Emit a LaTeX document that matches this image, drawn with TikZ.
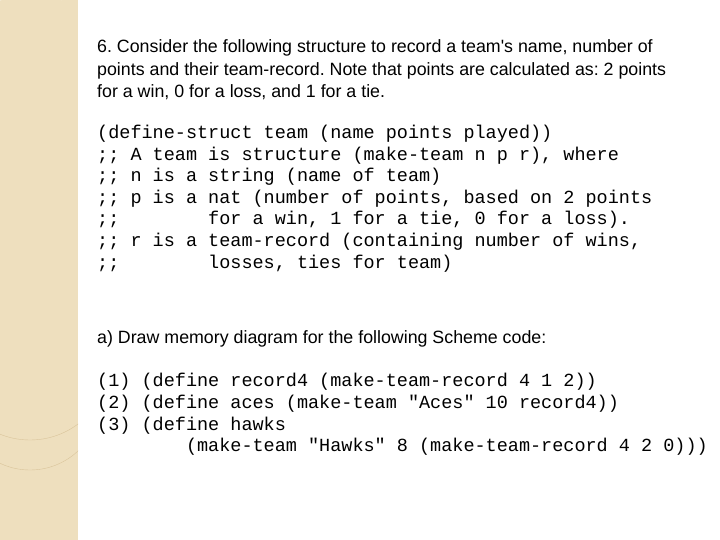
\documentclass[tikz,border=0pt]{standalone}
\usepackage{fontspec}
\setmainfont{Liberation Sans}
\setmonofont{Liberation Mono}
\frenchspacing
\definecolor{stripe}{HTML}{EEDFBE}
\definecolor{arcline}{HTML}{D9C49A}
\tikzset{
  prose/.style={anchor=base west,inner sep=0,font=\fontsize{17.8bp}{20bp}\selectfont},
  code/.style={anchor=base west,inner sep=0,font=\ttfamily\fontsize{18.5bp}{20bp}\selectfont},
}
\begin{document}
\begin{tikzpicture}[x=1bp,y=-1bp]
  \useasboundingbox (0,0) rectangle (720,540);
  % left stripe
  \fill[stripe] (0,0) rectangle (78,540);
  \begin{scope}
    \clip (0,0) rectangle (78,540);
    \draw[white,opacity=0.6,line width=2] (62,0) arc[start angle=0,end angle=-90,radius=55];
    \draw[white,opacity=0.5,line width=2] (220,10) arc[start angle=-60,end angle=-150,radius=240];
    \draw[arcline] (110,360) arc[start angle=0,end angle=180,radius=80];
    \draw[arcline] (100,400) arc[start angle=0,end angle=180,radius=70];
  \end{scope}
  % question
  \node[prose] (q1) at (97,53) {6. Consider the following structure to record a team\textquotesingle s name, number of};
  \node[prose] (q2) at (97,76) {points and their team-record. Note that points are calculated as: 2 points};
  \node[prose] (q3) at (97,98) {for a win, 0 for a loss, and 1 for a tie.};
  % structure definition
  \foreach \txt [count=\i] in {
    {(define-struct team (name points played))},
    {;; A team is structure (make-team n p r), where},
    {;; n is a string (name of team)},
    {;; p is a nat (number of points, based on 2 points},
    {;;\ \ \ \ \ \ \ \ for a win, 1 for a tie, 0 for a loss).},
    {;; r is a team-record (containing number of wins,},
    {;;\ \ \ \ \ \ \ \ losses, ties for team)}}
    \node[code] (s\i) at (97,{117+21.6*\i}) {\txt};
  % part a
  \node[prose] (a) at (97,343) {a) Draw memory diagram for the following Scheme code:};
  \node[code] (c1) at (97,386) {(1) (define record4 (make-team-record 4 1 2))};
  \node[code] (c2) at (97,408) {(2) (define aces (make-team "Aces" 10 record4))};
  \node[code] (c3) at (97,430) {(3) (define hawks};
  \node[code] (c4) at (97,451) {\ \ \ \ \ \ \ \ (make-team "Hawks" 8 (make-team-record 4 2 0)))};
\end{tikzpicture}
\end{document}
